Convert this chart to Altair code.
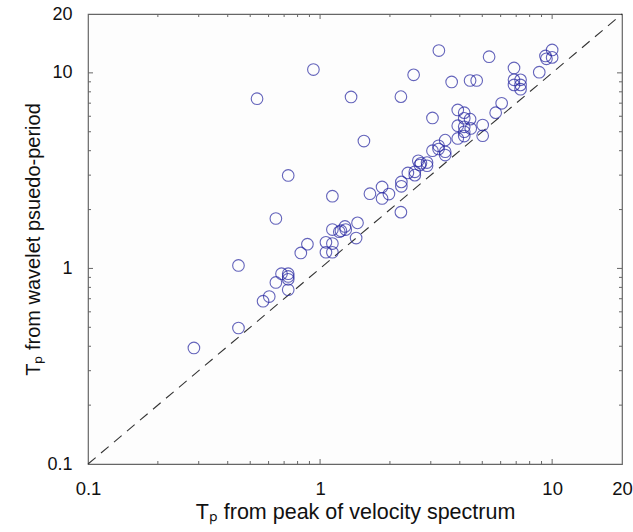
import altair as alt
import pandas as pd

# Tp from peak of velocity spectrum (x) vs Tp from wavelet pseudo-period (y)
x_vals = [0.936, 0.535, 1.36, 1.545, 0.729, 1.13, 0.645, 1.13, 1.23, 1.28,
          1.29, 1.45, 1.21, 1.43, 0.882, 0.826, 1.06, 1.13, 1.06, 1.13,
          0.445, 0.682, 0.729, 0.729, 0.729, 0.645, 0.729, 0.604, 0.568, 0.445,
          0.286, 3.25, 5.35, 10.0, 9.36, 10.0, 9.45, 6.85, 8.8, 2.53,
          3.69, 4.43, 4.73, 6.85, 7.31, 6.85, 7.31, 7.31, 2.23, 3.05,
          6.06, 5.71, 3.92, 4.18, 4.18, 4.43, 3.92, 4.18, 4.46, 4.18,
          5.02, 5.02, 3.92, 4.18, 3.46, 3.24, 3.24, 3.05, 3.46, 3.46,
          2.65, 2.72, 2.69, 2.89, 2.89, 2.56, 2.39, 2.56, 2.24, 2.24,
          1.85, 1.98, 1.85, 1.64, 2.23]
y_vals = [10.4, 7.38, 7.53, 4.48, 2.99, 2.34, 1.80, 1.58, 1.56, 1.64,
          1.58, 1.71, 1.54, 1.43, 1.33, 1.20, 1.36, 1.34, 1.21, 1.21,
          1.036, 0.94, 0.94, 0.91, 0.88, 0.848, 0.778, 0.718, 0.68, 0.496,
          0.392, 13.0, 12.1, 13.1, 12.2, 12.0, 11.8, 10.6, 10.08, 9.77,
          8.99, 9.14, 9.14, 9.21, 9.21, 8.68, 8.68, 8.25, 7.56, 5.88,
          6.99, 6.26, 6.46, 6.26, 5.86, 5.8, 5.37, 5.3, 5.2, 5.0,
          5.41, 4.77, 4.62, 4.75, 4.53, 4.24, 4.08, 4.0, 3.95, 3.8,
          3.55, 3.45, 3.38, 3.35, 3.48, 3.12, 3.08, 3.0, 2.77, 2.63,
          2.61, 2.40, 2.28, 2.41, 1.94]

line_ends = [0.1, 20]
label_values = [0.1, 1, 10, 20]
major_ticks = [1, 10]
minor_ticks = [0.2, 0.3, 0.4, 0.5, 0.6, 0.7, 0.8, 0.9,
               2, 3, 4, 5, 6, 7, 8, 9]

W, H = 534, 450
FONT = "Liberation Sans"
FRAME = "#666666"

pts = pd.DataFrame({"x": x_vals, "y": y_vals})
diag = pd.DataFrame({"x": line_ends, "y": line_ends})
majors = pd.DataFrame({"v": major_ticks})
minors = pd.DataFrame({"v": minor_ticks})

xscale = alt.Scale(type="log", domain=[0.1, 20], nice=False)
yscale = alt.Scale(type="log", domain=[0.1, 20], nice=False)

xaxis = alt.Axis(values=label_values, format="~g", ticks=False, grid=False,
                 domain=False, labelFontSize=18.5, labelFont=FONT, labelColor="#111",
                 labelPadding=15, labelFlush=False,
                 title="Tₚ from peak of velocity spectrum", titleFont=FONT,
                 titleFontSize=21.5, titleFontWeight="normal", titleColor="#111",
                 titlePadding=4)
yaxis = alt.Axis(values=label_values, format="~g", ticks=False, grid=False,
                 domain=False, labelFontSize=18, labelFont=FONT, labelColor="#111",
                 labelPadding=16, labelFlush=False,
                 title="Tₚ from wavelet psuedo-period", titleFont=FONT,
                 titleFontSize=20, titleFontWeight="normal", titleColor="#111",
                 titlePadding=3)

points = alt.Chart(pts).mark_point(shape="circle", filled=False, size=135,
                                   strokeWidth=1.1, color="#2424a0").encode(
    x=alt.X("x:Q", scale=xscale, axis=xaxis),
    y=alt.Y("y:Q", scale=yscale, axis=yaxis),
)

line = alt.Chart(diag).mark_line(color="#333333", strokeWidth=1.1,
                                 strokeDash=[10, 7]).encode(
    x=alt.X("x:Q", scale=xscale),
    y=alt.Y("y:Q", scale=yscale),
)


def tick_layers(df, L):
    base = alt.Chart(df).mark_rule(color=FRAME, strokeWidth=1)
    bottom = base.encode(x=alt.X("v:Q", scale=xscale), y=alt.value(H), y2=alt.value(H - L))
    top = base.encode(x=alt.X("v:Q", scale=xscale), y=alt.value(0), y2=alt.value(L))
    left = base.encode(y=alt.Y("v:Q", scale=yscale), x=alt.value(0), x2=alt.value(L))
    right = base.encode(y=alt.Y("v:Q", scale=yscale), x=alt.value(W), x2=alt.value(W - L))
    return [bottom, top, left, right]


chart = alt.layer(
    *tick_layers(majors, 5), *tick_layers(minors, 3), line, points
).properties(
    width=W, height=H,
    padding={"left": 88, "top": 14, "right": 11, "bottom": 68},
    autosize=alt.AutoSizeParams(type="none"),
    background="white",
).configure_view(
    stroke=FRAME, strokeWidth=1.2, fill="#fdfdfd"
)

chart.save("out.html", embed_options={"renderer": "svg", "actions": False})
